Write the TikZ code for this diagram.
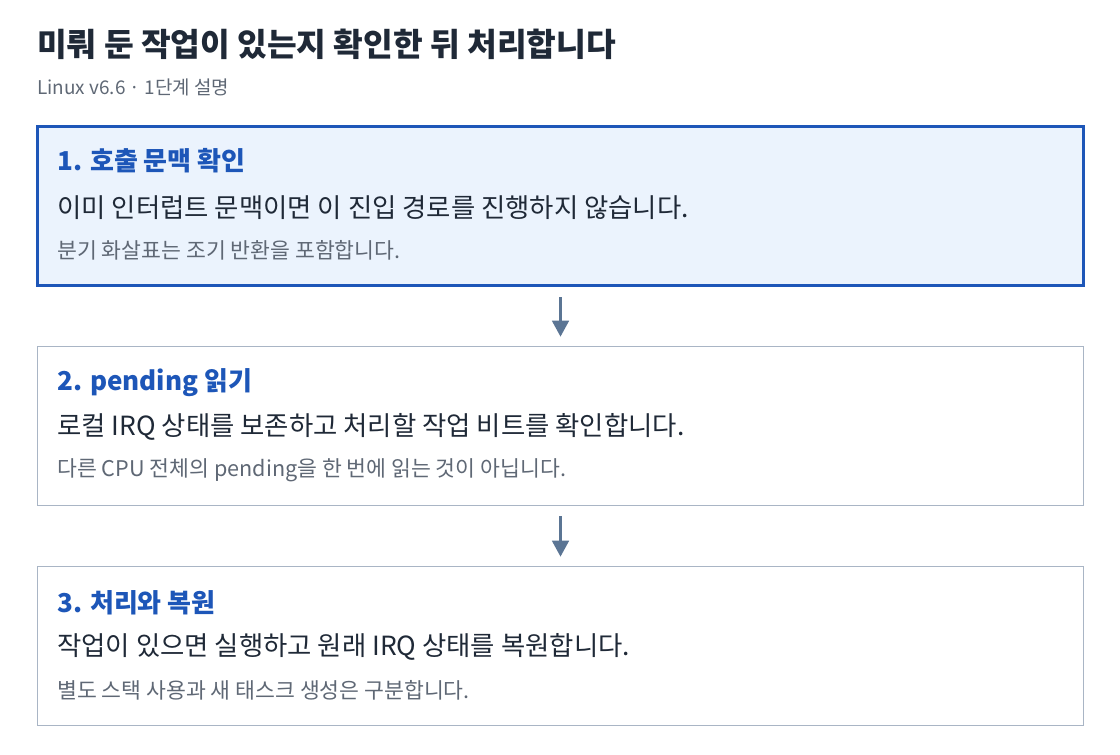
\documentclass[tikz,border=0pt]{standalone}
\usepackage{fontspec}
\setmainfont{Noto Sans CJK KR}
\usetikzlibrary{arrows.meta}

\definecolor{inkdark}{HTML}{1F2937}
\definecolor{inkgray}{HTML}{5F6875}
\definecolor{stepblue}{HTML}{1D56B8}
\definecolor{stepfill}{HTML}{EBF3FD}
\definecolor{boxgray}{HTML}{A9B5C5}
\definecolor{arrowgray}{HTML}{5B7594}

\tikzset{
  stepbox/.style={draw=boxgray, line width=0.9pt, fill=white, minimum width=785pt, minimum height=119.5pt, inner sep=0pt},
  activebox/.style={stepbox, draw=stepblue, line width=2.3pt, fill=stepfill},
  headtext/.style={anchor=west, inner sep=0pt, text=stepblue, font=\fontsize{19.5}{23}\selectfont\bfseries},
  bodytext/.style={anchor=west, inner sep=0pt, text=inkdark, font=\fontsize{19.8}{23}\selectfont},
  notetext/.style={anchor=west, inner sep=0pt, text=inkgray, font=\fontsize{16.2}{19}\selectfont},
  flow/.style={-{Triangle[length=12pt,width=12.5pt]}, draw=arrowgray, fill=arrowgray, line width=2pt, shorten >=6.8pt, shorten <=7.5pt}
}

\begin{document}
\begin{tikzpicture}[x=0.75pt, y=-0.75pt]
\useasboundingbox (0,0) rectangle (1120,754);

%% title
\node[anchor=west, inner sep=0pt, text=inkdark, font=\fontsize{24.2}{28}\selectfont\bfseries] (title) at (37,44) {미뤄 둔 작업이 있는지 확인한 뒤 처리합니다};
\node[anchor=west, inner sep=0pt, text=inkgray, font=\fontsize{14.2}{17}\selectfont] (subtitle) at (37,87) {Linux v6.6 · 1단계 설명};

%% boxes
\node[activebox] (box1) at (560.5,206) {};
\node[stepbox] (box2) at (560.5,426) {};
\node[stepbox] (box3) at (560.5,646) {};

%% box texts
\node[headtext] (head1) at (57,161) {1. 호출 문맥 확인};
\node[bodytext] (body1) at (57,208) {이미 인터럽트 문맥이면 이 진입 경로를 진행하지 않습니다.};
\node[notetext] (note1) at (57,250) {분기 화살표는 조기 반환을 포함합니다.};

\node[headtext] (head2) at (57,383) {2. pending 읽기};
\node[bodytext] (body2) at (57,427) {로컬 IRQ 상태를 보존하고 처리할 작업 비트를 확인합니다.};
\node[notetext] (note2) at (57,470) {다른 CPU 전체의 pending을 한 번에 읽는 것이 아닙니다.};

\node[headtext] (head3) at (57,603) {3. 처리와 복원};
\node[bodytext] (body3) at (57,647) {작업이 있으면 실행하고 원래 IRQ 상태를 복원합니다.};
\node[notetext] (note3) at (57,690) {별도 스택 사용과 새 태스크 생성은 구분합니다.};

%% arrows
\draw[flow] (box1.south) -- (box2.north);
\draw[flow] (box2.south) -- (box3.north);
\end{tikzpicture}
\end{document}
